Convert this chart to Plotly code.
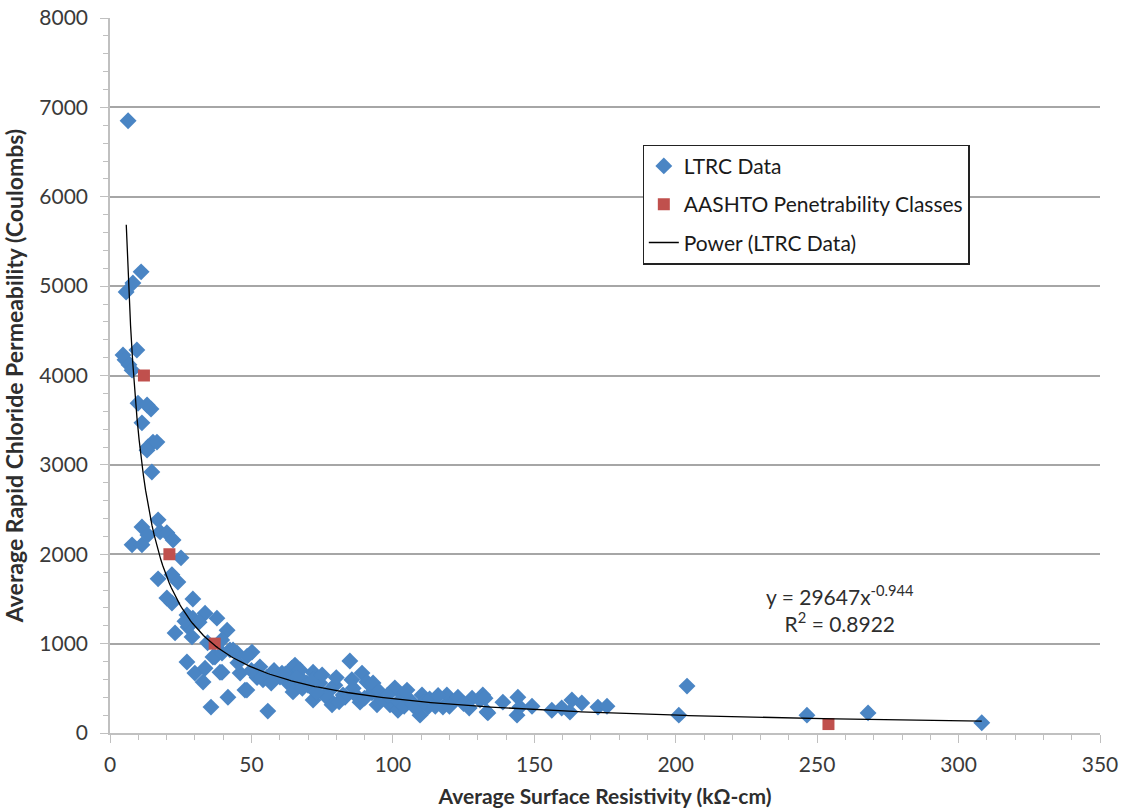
import numpy as np
import plotly.graph_objects as go

# LTRC measurements: surface resistivity (kOhm-cm) vs. RCP charge passed (Coulombs)
ltrc_resistivity = [
    6.4, 5.7, 8.1, 11.0, 9.5, 4.6, 5.3, 6.7, 7.8, 9.9, 13.1, 14.5, 11.3, 15.2, 13.4,
    13.1, 16.6, 14.8, 11.3, 17.0, 7.8, 11.3, 13.4, 17.7, 20.1, 22.3, 25.1, 17.0, 21.9,
    24.0, 20.1, 21.9, 29.3, 27.2, 29.3, 33.6, 37.8, 23.0, 27.6, 29.0, 41.4, 27.2, 30.0,
    32.9, 33.6, 37.1, 39.6, 35.7, 41.7, 42.4, 44.9, 46.0, 47.7, 50.2, 53.0, 55.8, 54.1,
    60.8, 64.3, 64.3, 67.9, 36.4, 39.6, 38.9, 43.5, 45.2, 34.5, 39.5, 31.5, 26.5,
    65.4, 71.8, 62.6, 64.7, 70.0, 71.8, 78.5, 79.5, 82.4, 85.5, 89.1, 90.8, 88.4, 92.6,
    94.4, 99.0, 100.7, 103.6, 101.8, 106.0, 110.3, 109.6, 112.4, 119.1, 121.2, 117.7,
    128.0, 130.8, 133.6, 131.8, 84.8, 55.5, 60.1, 67.2, 69.6, 74.2, 77.8, 78.8, 83.1,
    48.4, 72.0, 75.0, 76.0, 80.0, 81.0, 86.0, 87.0, 90.0, 93.0, 95.0, 96.0, 98.0,
    102.0, 104.0, 105.0, 107.0, 108.0, 111.0, 113.0, 115.0, 116.0, 120.0, 123.0,
    125.0, 127.0, 58.0, 62.0, 66.0, 68.0, 73.0, 57.0, 52.0, 50.0, 48.5,
    132.6, 133.3, 138.9, 144.2, 143.9, 144.9, 149.2, 156.2, 159.7, 163.3, 162.6,
    166.8, 172.5, 175.7, 201.1, 204.0, 246.4, 268.0, 308.2,
]
ltrc_charge = [
    6850, 4935, 5035, 5160, 4285, 4230, 4175, 4120, 4060, 3690, 3670, 3625, 3470, 3255,
    3200, 3165, 3255, 2920, 2305, 2385, 2105, 2105, 2215, 2250, 2240, 2160, 1960, 1725,
    1770, 1690, 1510, 1455, 1500, 1320, 1285, 1340, 1285, 1120, 1185, 1075, 1150, 795,
    670, 570, 725, 850, 680, 290, 400, 930, 895, 670, 480, 905, 740, 245, 595,
    670, 725, 560, 595, 850, 895, 680, 930, 785, 1010, 1040, 1240, 1250,
    760, 680, 570, 460, 535, 370, 315, 535, 425, 595, 670, 570, 345, 450,
    315, 315, 505, 425, 255, 370, 425, 200, 290, 425, 345, 290,
    390, 370, 225, 425, 805, 625, 625, 705, 560, 560, 480, 335, 400,
    480, 600, 650, 420, 620, 350, 500, 420, 390, 560, 470, 380, 420,
    350, 300, 480, 330, 280, 350, 380, 300, 420, 300, 400,
    330, 280, 700, 660, 620, 500, 450, 560, 620, 700, 860,
    390, 235, 345, 400, 200, 290, 300, 255, 280, 370, 235,
    335, 290, 300, 200, 525, 200, 225, 115,
]

# AASHTO penetrability class boundaries
aashto_resistivity = [12, 21, 37, 254]
aashto_charge = [4000, 2000, 1000, 100]

# Power-law trendline fitted to the LTRC data: y = a * x^b
fit_a = 29647
fit_b = -0.944
fit_r2 = 0.8922
fit_x_range = [5.75, 308.2]

fit_x = np.linspace(fit_x_range[0], fit_x_range[1], 400)
fit_y = fit_a * fit_x ** fit_b

font_family = "Lato, 'Open Sans', Arial, sans-serif"
tick_font = dict(family=font_family, size=21, color="#3a3a3a")

fig = go.Figure()

fig.add_trace(go.Scatter(
    x=ltrc_resistivity, y=ltrc_charge, mode="markers", name="LTRC Data",
    legendgroup="a",
    marker=dict(symbol="diamond", size=13, color="#4A85C4", line=dict(width=0)),
))
fig.add_trace(go.Scatter(
    x=aashto_resistivity, y=aashto_charge, mode="markers",
    name="AASHTO Penetrability Classes", legendgroup="b",
    marker=dict(symbol="square", size=12, color="#C0504D", line=dict(width=0)),
))
fig.add_trace(go.Scatter(
    x=fit_x, y=fit_y, mode="lines", name="Power (LTRC Data)", legendgroup="c",
    line=dict(color="black", width=1.3),
))

fig.add_annotation(
    x=258, y=1390, xref="x", yref="y", showarrow=False, align="center",
    text=f"y = {fit_a}x<sup>{fit_b}</sup><br>R<sup>2</sup> = {fit_r2}",
    font=dict(family=font_family, size=21, color="#2e2e2e"),
)

fig.update_layout(
    width=1126, height=811,
    margin=dict(l=110, r=26, t=18, b=78),
    paper_bgcolor="white", plot_bgcolor="white",
    showlegend=True,
    legend=dict(
        x=0.538, y=0.823, xanchor="left", yanchor="top",
        bgcolor="white", bordercolor="#222222", borderwidth=1.2,
        font=dict(family=font_family, size=21, color="#1a1a1a"),
        tracegroupgap=8, itemwidth=30,
    ),
    xaxis=dict(
        range=[0, 350], dtick=50, tick0=0, automargin=False,
        showgrid=False, zeroline=False,
        showline=True, linecolor="#c0c0c0", linewidth=1.5,
        ticks="outside", ticklen=8, tickcolor="#c0c0c0", tickwidth=1.2,
        minor=dict(dtick=10, ticks="outside", ticklen=5, tickcolor="#c0c0c0", showgrid=False),
        tickfont=tick_font, ticklabelstandoff=4,
        title=dict(text="<b>Average Surface Resistivity (kΩ-cm)</b>",
                   font=dict(family=font_family, size=21, color="#2e2e2e"), standoff=14),
    ),
    yaxis=dict(
        range=[0, 8000], dtick=1000, tick0=0, automargin=False,
        showgrid=True, gridcolor="#a6a6a6", gridwidth=1.5,
        zeroline=False,
        showline=True, linecolor="#c0c0c0", linewidth=1.5,
        ticks="outside", ticklen=8, tickcolor="#c0c0c0", tickwidth=1.2,
        minor=dict(dtick=200, ticks="outside", ticklen=5, tickcolor="#c0c0c0", showgrid=False),
        tickfont=tick_font, ticklabelstandoff=8,
        title=dict(text="<b>Average Rapid Chloride Permeability (Coulombs)</b>",
                   font=dict(family=font_family, size=23, color="#2e2e2e"), standoff=10),
    ),
)

fig.write_html("out.html")
